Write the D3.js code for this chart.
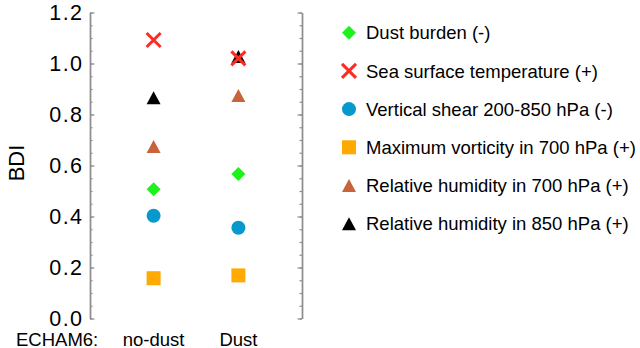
<!DOCTYPE html>
<html>
<head>
<meta charset="utf-8">
<script src="https://cdn.jsdelivr.net/npm/d3@7"></script>
<style>
  html, body { margin: 0; padding: 0; background: #fff; }
  svg { display: block; font-family: "Liberation Sans", Arial, Helvetica, sans-serif; }
</style>
</head>
<body>
<svg id="chart" width="640" height="348"></svg>
<script>
// Experiments and their BDI values per predictor
const experiments = ["no-dust", "Dust"];
const dustBurden   = [0.507, 0.567];
const sst          = [1.092, 1.020];
const shear        = [0.403, 0.356];
const vorticity    = [0.158, 0.169];
const rh700        = [0.675, 0.875];
const rh850        = [0.866, 1.027];

const seriesNames = [
  "Dust burden (-)",
  "Sea surface temperature (+)",
  "Vertical shear 200-850 hPa (-)",
  "Maximum vorticity in 700 hPa (+)",
  "Relative humidity in 700 hPa (+)",
  "Relative humidity in 850 hPa (+)"
];
const yTicks = [0, 0.2, 0.4, 0.6, 0.8, 1.0, 1.2];

const series = [
  { name: seriesNames[0], values: dustBurden, shape: "diamond",  color: "#1df21d" },
  { name: seriesNames[1], values: sst,        shape: "cross",    color: "#ff2a22" },
  { name: seriesNames[2], values: shear,      shape: "circle",   color: "#0798cc" },
  { name: seriesNames[3], values: vorticity,  shape: "square",   color: "#ffaa00" },
  { name: seriesNames[4], values: rh700,      shape: "triangle", color: "#c8643a" },
  { name: seriesNames[5], values: rh850,      shape: "triangle", color: "#000000" }
];

const svg = d3.select("#chart");
const plotLeft = 90, plotRight = 302, plotTop = 12.5, plotBottom = 318.5;

const y = d3.scaleLinear().domain([0, 1.2]).range([plotBottom, plotTop]);
const x = d3.scalePoint().domain(experiments).range([plotLeft, plotRight]).padding(0.75);

const axisColor = "#8e8e8e";
const minorTicks = d3.range(0, 1.2001, 0.05);

// Left axis: minor ticks pointing inward, then major ticks with labels
const gL = svg.append("g").attr("transform", `translate(${plotLeft},0)`);
gL.call(d3.axisLeft(y).tickValues(minorTicks).tickSizeInner(-2.5).tickSizeOuter(0).tickFormat(""));
gL.call(g => g.selectAll("text").remove());
const gLM = svg.append("g").attr("transform", `translate(${plotLeft},0)`);
gLM.call(d3.axisLeft(y).tickValues(yTicks).tickSizeInner(-4.5).tickSizeOuter(0)
  .tickPadding(6.6).tickFormat(d3.format(".1f")));
gLM.selectAll("text")
  .attr("font-size", 21.5)
  .attr("letter-spacing", 1.4)
  .attr("fill", "#000")
  .attr("font-family", "Liberation Sans, Arial, sans-serif");

// Right axis: mirrored ticks, no labels
const gR = svg.append("g").attr("transform", `translate(${plotRight},0)`);
gR.call(d3.axisRight(y).tickValues(minorTicks).tickSizeInner(-2.5).tickSizeOuter(0).tickFormat(""));
const gRM = svg.append("g").attr("transform", `translate(${plotRight},0)`);
gRM.call(d3.axisRight(y).tickValues(yTicks).tickSizeInner(-4.5).tickSizeOuter(0).tickFormat(""));

svg.selectAll(".domain").attr("stroke", axisColor).attr("stroke-width", 1.4);
svg.selectAll(".tick line").attr("stroke", axisColor).attr("stroke-width", 1.2);

// Axis title
svg.append("text")
  .attr("transform", "translate(24,163) rotate(-90)")
  .attr("text-anchor", "middle")
  .attr("font-size", 22)
  .text("BDI");

// Experiment labels
svg.append("text").attr("x", 16).attr("y", 345.5).attr("font-size", 18.5).text("ECHAM6:");
svg.selectAll("text.cat").data(experiments).enter().append("text")
  .attr("class", "cat")
  .attr("x", d => x(d)).attr("y", 345.5)
  .attr("text-anchor", "middle")
  .attr("font-size", 18.5)
  .text(d => d);

// Marker drawing
function drawMarker(g, shape, color, cx, cy) {
  const s = 7;
  if (shape === "diamond") {
    g.append("path").attr("d", `M${cx},${cy - s}L${cx + s},${cy}L${cx},${cy + s}L${cx - s},${cy}Z`).attr("fill", color);
  } else if (shape === "cross") {
    const c = 7;
    g.append("path").attr("d", `M${cx - c},${cy - c}L${cx + c},${cy + c}M${cx - c},${cy + c}L${cx + c},${cy - c}`)
      .attr("stroke", color).attr("stroke-width", 3).attr("fill", "none");
  } else if (shape === "circle") {
    g.append("circle").attr("cx", cx).attr("cy", cy).attr("r", 7).attr("fill", color);
  } else if (shape === "square") {
    g.append("rect").attr("x", cx - 7).attr("y", cy - 7).attr("width", 14).attr("height", 14).attr("fill", color);
  } else if (shape === "triangle") {
    g.append("path").attr("d", `M${cx},${cy - 6.5}L${cx + 7},${cy + 6.5}L${cx - 7},${cy + 6.5}Z`).attr("fill", color);
  }
}

// Plot points, drawn so that the SST cross lies above the 850 hPa triangle
const drawOrder = [0, 2, 3, 4, 5, 1];
const pts = svg.append("g");
drawOrder.forEach(i => {
  const s = series[i];
  experiments.forEach((e, j) => drawMarker(pts, s.shape, s.color, x(e), y(s.values[j])));
});

// Legend
const legend = svg.append("g");
series.forEach((s, i) => {
  const cy = 32.7 + i * 38.2;
  drawMarker(legend, s.shape, s.color, 349, cy);
  legend.append("text").attr("x", 366).attr("y", cy).attr("dy", "0.36em")
    .attr("font-size", 18.5).text(s.name);
});
</script>
</body>
</html>
